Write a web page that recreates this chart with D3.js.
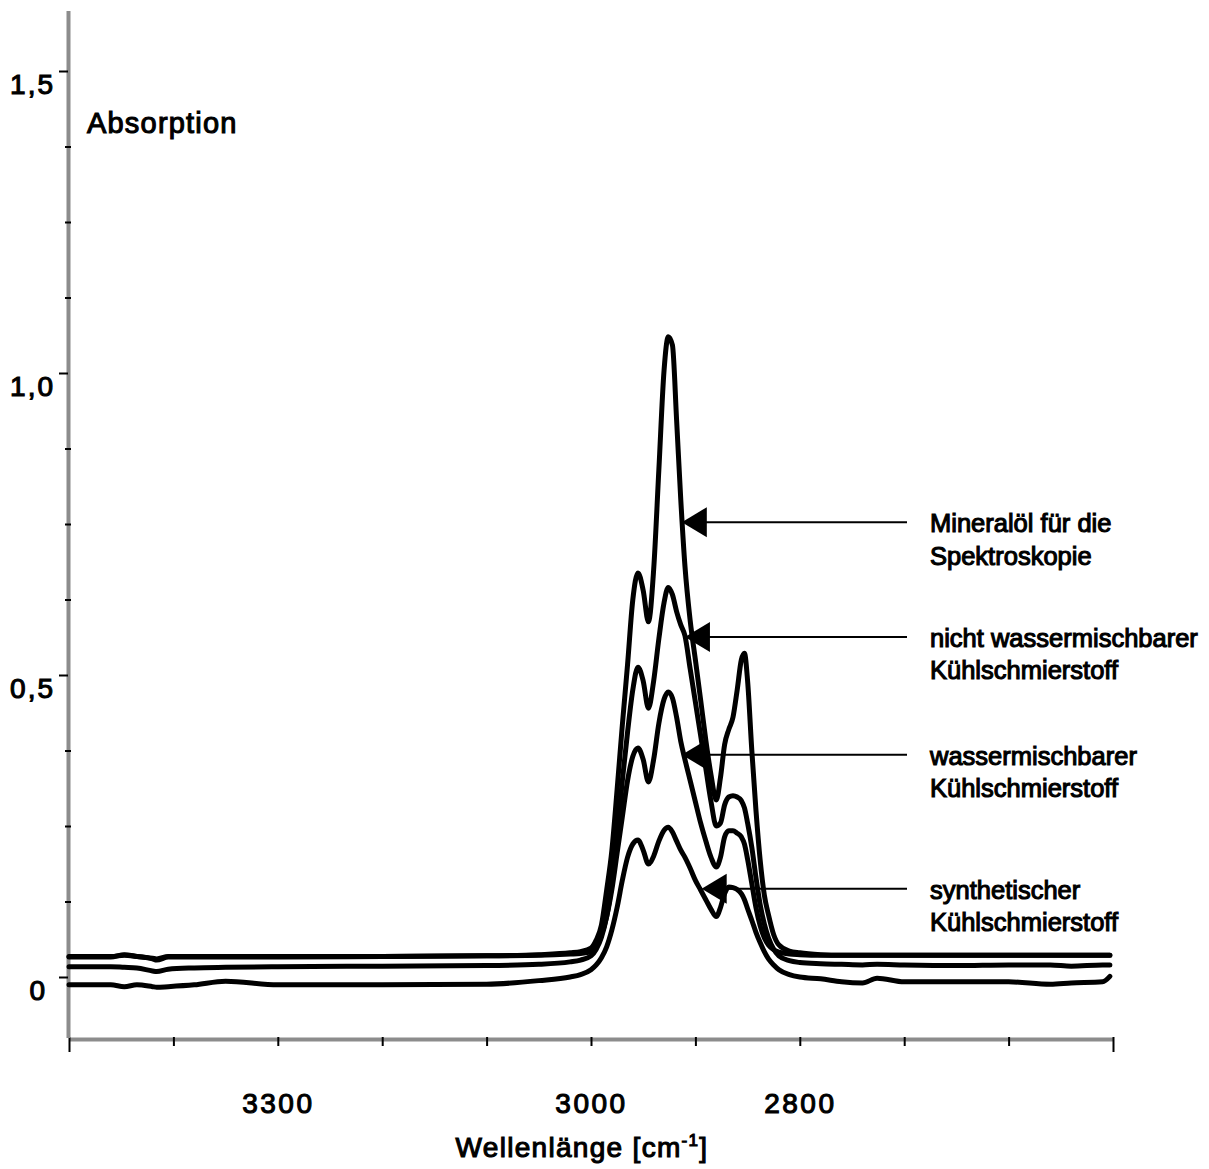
<!DOCTYPE html>
<html><head><meta charset="utf-8">
<script src="https://cdn.jsdelivr.net/npm/d3@7"></script>
<style>
body{margin:0;background:#fff}
svg text{font-family:"Liberation Sans",Arial,sans-serif;fill:#000;stroke:#000;stroke-width:1.1px}
</style>
</head><body><svg id="c" width="1209" height="1169"></svg>
<script>
// ---- data ----
const wavenumbers = [3500,3460,3447,3435,3420,3416,3405,3380,3350,3300,3200,3100,3050,3020,3010,3000,2995,2990,2985,2980,2975,2970,2965,2960,2955,2950,2945,2940,2935,2930,2926,2922,2918,2914,2910,2905,2900,2895,2890,2885,2880,2876,2872,2868,2864,2860,2856,2853,2850,2846,2842,2838,2834,2830,2825,2820,2810,2800,2780,2760,2740,2726,2700,2650,2600,2560,2540,2510,2503];
const mineraloel = [0.033,0.033,0.037,0.034,0.030,0.028,0.033,0.033,0.033,0.033,0.034,0.035,0.037,0.040,0.042,
  0.048,0.061,0.086,0.144,0.21,0.31,0.417,0.517,0.624,0.669,
  0.64,0.588,0.674,0.84,1.005,1.06,1.046,0.922,0.79,0.68,
  0.59,0.525,0.459,0.392,0.334,0.293,0.33,0.385,0.41,0.43,
  0.475,0.525,0.536,0.49,0.376,0.276,0.194,0.136,0.103,0.07,
  0.053,0.043,0.040,0.037,0.036,0.036,0.036,0.036,0.036,0.036,0.036,0.036,0.036,0.036];
const nichtWassermischbar = [0.017,0.017,0.016,0.015,0.010,0.009,0.013,0.015,0.016,0.017,0.018,0.019,0.021,0.025,0.028,
  0.035,0.046,0.066,0.10,0.155,0.235,0.325,0.405,0.475,0.513,
  0.49,0.445,0.49,0.56,0.62,0.645,0.633,0.605,0.583,0.565,
  0.51,0.455,0.40,0.345,0.29,0.25,0.255,0.285,0.298,0.30,
  0.298,0.292,0.28,0.255,0.215,0.165,0.12,0.088,0.065,0.046,
  0.035,0.027,0.024,0.022,0.021,0.020,0.021,0.020,0.019,0.020,0.020,0.018,0.020,0.020];
const wassermischbar = [0.034,0.034,0.036,0.034,0.031,0.030,0.034,0.034,0.034,0.034,0.034,0.035,0.036,0.038,0.039,
  0.042,0.052,0.07,0.10,0.145,0.205,0.265,0.325,0.365,0.379,
  0.36,0.323,0.36,0.42,0.46,0.472,0.462,0.43,0.39,0.36,
  0.325,0.29,0.255,0.225,0.198,0.182,0.198,0.232,0.242,0.242,
  0.238,0.232,0.22,0.195,0.155,0.115,0.085,0.065,0.053,0.045,
  0.041,0.038,0.037,0.036,0.036,0.036,0.036,0.036,0.036,0.036,0.036,0.036,0.036,0.036];
const synthetisch = [-0.013,-0.013,-0.016,-0.013,-0.016,-0.017,-0.016,-0.013,-0.007,-0.013,-0.013,-0.012,-0.006,0.0,0.004,
  0.012,0.02,0.032,0.05,0.078,0.115,0.16,0.198,0.22,0.227,
  0.21,0.187,0.2,0.225,0.243,0.248,0.24,0.225,0.21,0.198,
  0.18,0.16,0.144,0.128,0.112,0.10,0.115,0.138,0.149,0.148,
  0.145,0.138,0.128,0.113,0.094,0.074,0.057,0.042,0.03,0.02,
  0.012,0.004,0.0,-0.003,-0.008,-0.010,-0.002,-0.008,-0.008,-0.008,-0.012,-0.010,-0.008,0.001];

const seriesLabels = [["Mineralöl für die","Spektroskopie"],["nicht wassermischbarer","Kühlschmierstoff"],["wassermischbarer","Kühlschmierstoff"],["synthetischer","Kühlschmierstoff"]];
const arrowTipWn = [2913, 2910, 2913, 2894];
const arrowTipVal = [0.753, 0.563, 0.368, 0.146];

const xTicks = [3500,3400,3300,3200,3100,3000,2900,2800,2700,2600,2500];
const xLabelValues = [3300,3000,2800];
const xTickLabels = ["3300","3000","2800"];
const yMajorTicks = [0,0.5,1.0,1.5];
const yTickLabels = ["0","0,5","1,0","1,5"];
const yMinorTicks = [0.125,0.25,0.375,0.625,0.75,0.875,1.125,1.25,1.375];

// ---- chart ----
const svg = d3.select("#c");
const x = d3.scaleLinear().domain([3500,2500]).range([69,1113]);
const y = d3.scaleLinear().domain([-0.1,1.6]).range([1037.4,10.6]);
const FONT = '"Liberation Sans",Arial,sans-serif';

// x axis
const gx = svg.append("g").attr("transform","translate(0,1039)")
  .call(d3.axisBottom(x).tickValues(xTicks).tickSize(7).tickSizeOuter(0).tickPadding(47)
    .tickFormat(d => { const i = xLabelValues.indexOf(d); return i >= 0 ? xTickLabels[i] : ""; }));
gx.attr("font-family",FONT).attr("font-size",28);
gx.select(".domain").attr("stroke","#8c8c8c").attr("stroke-width",4);
gx.selectAll(".tick line").attr("stroke","#000").attr("stroke-width",2)
  .attr("y1",-2).attr("y2",d => (d===3500||d===2500) ? 13 : 7);
gx.selectAll(".tick text").attr("letter-spacing",2.5).attr("fill","#000");

// y axis
const gy = svg.append("g").attr("transform","translate(68,0)")
  .call(d3.axisLeft(y).tickValues(yMajorTicks).tickSize(9).tickSizeOuter(0).tickPadding(4)
    .tickFormat((d,i) => yTickLabels[i]));
gy.attr("font-family",FONT).attr("font-size",28);
gy.select(".domain").attr("stroke","#8c8c8c").attr("stroke-width",4);
gy.selectAll(".tick line").attr("stroke","#000").attr("stroke-width",2);
gy.selectAll(".tick text").attr("dy",22).attr("letter-spacing",2).attr("fill","#000")
  .attr("x", d => d===0 ? -21 : -13);

const gym = svg.append("g").attr("transform","translate(71,0)")
  .call(d3.axisLeft(y).tickValues(yMinorTicks).tickSize(6).tickSizeOuter(0).tickFormat(""));
gym.select(".domain").remove();
gym.selectAll(".tick line").attr("stroke","#000").attr("stroke-width",2);

// curves
const allSeries = [mineraloel, nichtWassermischbar, wassermischbar, synthetisch];
const line = d3.line().x((d,i) => x(wavenumbers[i])).y(d => y(d)).curve(d3.curveMonotoneX);
svg.append("g").selectAll("path").data(allSeries).join("path")
  .attr("d", line).attr("fill","none").attr("stroke","#000")
  .attr("stroke-width",5).attr("stroke-linejoin","round").attr("stroke-linecap","round");

// annotations
const labelX = 930, lineEnd = 907;
seriesLabels.forEach((lines,i) => {
  const tx = x(arrowTipWn[i]), ty = y(arrowTipVal[i]);
  svg.append("line").attr("x1",tx+20).attr("x2",lineEnd).attr("y1",ty).attr("y2",ty)
    .attr("stroke","#000").attr("stroke-width",2);
  svg.append("path").attr("d",`M${tx},${ty}L${tx+25},${ty-15}L${tx+25},${ty+15}Z`).attr("fill","#000");
  const t = svg.append("text").attr("font-size",25.5).attr("x",labelX).attr("y",ty+10);
  lines.forEach((s,j) => t.append("tspan").attr("x",labelX).attr("dy", j===0 ? 0 : 32.5).text(s));
});

// axis titles
svg.append("text").attr("x",87).attr("y",133).attr("font-size",29).attr("letter-spacing",1.2).text("Absorption");
const xt = svg.append("text").attr("x",582).attr("y",1157).attr("font-size",28).attr("text-anchor","middle").attr("letter-spacing",1.3);
xt.append("tspan").text("Wellenlänge [cm");
xt.append("tspan").attr("font-size",17).attr("dy",-11).text("-1");
xt.append("tspan").attr("dy",11).text("]");
</script></body></html>
